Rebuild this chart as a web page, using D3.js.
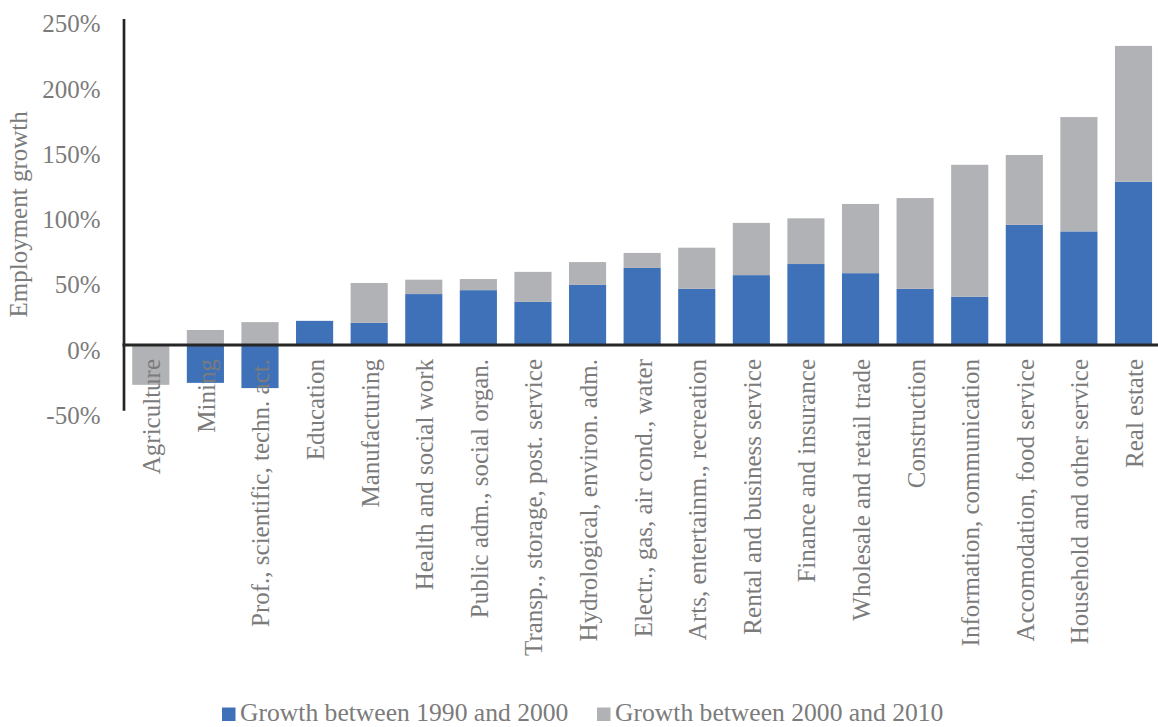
<!DOCTYPE html>
<html>
<head>
<meta charset="utf-8">
<script src="https://cdn.jsdelivr.net/npm/d3@7/dist/d3.min.js"></script>
<style>
  html, body { margin: 0; padding: 0; background: #fff; }
  svg { display: block; font-family: "Liberation Serif", "DejaVu Serif", serif; }
</style>
</head>
<body>
<svg id="chart" width="1158" height="727"></svg>
<script>
// Sectors, ordered by total employment growth 1990-2010
const categories = [
  "Agriculture", "Mining", "Prof., scientific, techn. act.", "Education",
  "Manufacturing", "Health and social work", "Public adm., social organ.",
  "Transp., storage, post. service", "Hydrological, environ. adm.",
  "Electr., gas, air cond., water", "Arts, entertainm., recreation",
  "Rental and business service", "Finance and insurance",
  "Wholesale and retail trade", "Construction", "Information, communication",
  "Accomodation, food service", "Household and other service", "Real estate"
];

// Employment growth in percent
const growth1990to2000 = [0, -29, -33, 18.5, 17, 39, 42, 33, 46, 59, 43, 53.5, 62, 55, 43, 37, 92, 87, 125];
const growth2000to2010 = [-30.5, 11.5, 17.5, 0, 30.5, 11, 8.5, 23, 17.5, 11.5, 31.5, 40, 35, 53, 69.5, 101, 53.5, 87.5, 104];

const seriesNames = ["Growth between 1990 and 2000", "Growth between 2000 and 2010"];
const yTicks = [-50, 0, 50, 100, 150, 200, 250];

const colors = ["#3e71b8", "#b1b2b5"];
const textColor = "#7b7b7b";
const axisColor = "#262626";
const fontSize = 25;

const svg = d3.select("#chart");

const x = d3.scaleBand()
  .domain(categories)
  .range([123.5, 1160.8])
  .paddingInner(0.32)
  .paddingOuter(0.16);

const y = d3.scaleLinear()
  .domain([-50, 250])
  .range([410.3, 18.5]);

// Rows for the stack: positive and negative parts pile up separately
const rows = categories.map((c, i) => ({
  category: c,
  s0: growth1990to2000[i],
  s1: growth2000to2010[i]
}));

const stack = d3.stack()
  .keys(["s0", "s1"])
  .offset(d3.stackOffsetDiverging);

const layers = stack(rows);

svg.append("g")
  .selectAll("g")
  .data(layers)
  .join("g")
    .attr("fill", (d, i) => colors[i])
  .selectAll("rect")
  .data(d => d)
  .join("rect")
    .attr("x", d => x(d.data.category))
    .attr("width", x.bandwidth())
    .attr("y", d => y(Math.max(d[0], d[1])))
    .attr("height", d => Math.abs(y(d[0]) - y(d[1])));

// Y axis: line plus percentage labels, no tick marks
const yAxis = svg.append("g")
  .attr("transform", `translate(${x.range()[0]},0)`)
  .call(d3.axisLeft(y).tickValues(yTicks).tickFormat(d => d + "%").tickSize(0).tickPadding(23));
yAxis.select(".domain")
  .attr("stroke", axisColor)
  .attr("stroke-width", 2.7);
yAxis.selectAll("text")
  .attr("fill", textColor)
  .attr("font-size", fontSize)
  .attr("font-family", "Liberation Serif, serif")
  .attr("dy", "0.53em");

// Zero line
svg.append("line")
  .attr("x1", x.range()[0] - 1)
  .attr("x2", 1158)
  .attr("y1", y(0))
  .attr("y2", y(0))
  .attr("stroke", axisColor)
  .attr("stroke-width", 3);

// Category labels, rotated, hanging below the zero line
svg.append("g")
  .selectAll("text")
  .data(categories)
  .join("text")
    .attr("transform", d => `translate(${x(d) + x.bandwidth() / 2},359) rotate(-90)`)
    .attr("text-anchor", "end")
    .attr("dy", "0.38em")
    .attr("fill", textColor)
    .attr("font-size", fontSize)
    .text(d => d);

// Y axis title
svg.append("text")
  .attr("transform", `translate(27,${(y.range()[0] + y.range()[1]) / 2}) rotate(-90)`)
  .attr("text-anchor", "middle")
  .attr("fill", textColor)
  .attr("font-size", fontSize)
  .text("Employment growth");

// Legend along the bottom edge
const legendX = [222, 597];
const legend = svg.append("g")
  .selectAll("g")
  .data(seriesNames)
  .join("g")
    .attr("transform", (d, i) => `translate(${legendX[i]},707.5)`);
legend.append("rect")
  .attr("width", 13.5)
  .attr("height", 13.5)
  .attr("fill", (d, i) => colors[i]);
legend.append("text")
  .attr("x", 18)
  .attr("y", 13.5)
  .attr("fill", textColor)
  .attr("font-size", 25.6)
  .text(d => d);
</script>
</body>
</html>
